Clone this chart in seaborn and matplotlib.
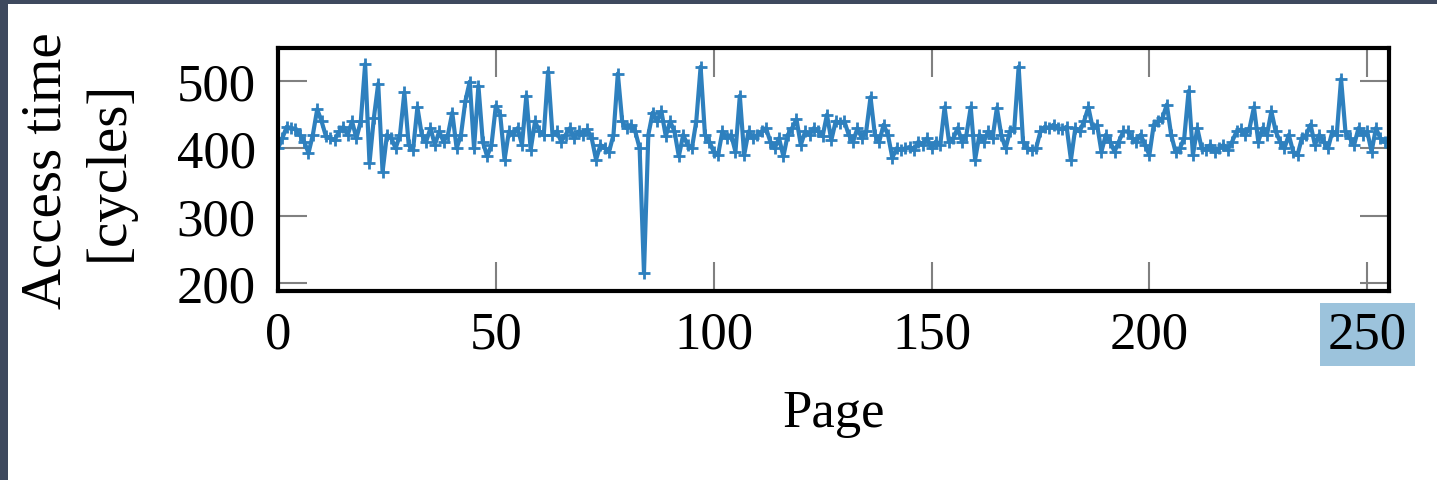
import matplotlib
matplotlib.use("Agg")
import matplotlib.pyplot as plt
import numpy as np
import pandas as pd
import seaborn as sns
from matplotlib.patches import Rectangle

# access time per page
access_time = [
    400, 415, 432, 430, 428, 420, 410, 393, 420, 458, 440, 418, 415, 412, 425, 432,
    420, 440, 415, 440, 525, 378, 445, 496, 365, 420, 415, 400, 420, 483, 405, 398,
    461, 420, 410, 430, 405, 425, 410, 420, 453, 400, 420, 470, 499, 400, 493, 410,
    388, 405, 463, 450, 383, 425, 420, 430, 405, 478, 398, 440, 425, 420, 514, 420,
    425, 410, 420, 430, 415, 425, 420, 428, 415, 383, 405, 400, 395, 420, 511, 440,
    430, 435, 425, 400, 215, 420, 453, 440, 455, 418, 440, 425, 388, 420, 405, 400,
    440, 521, 420, 410, 395, 390, 425, 415, 420, 395, 478, 390, 425, 415, 420, 425,
    430, 410, 400, 415, 388, 420, 430, 443, 405, 425, 420, 430, 425, 418, 450, 412,
    440, 438, 440, 420, 410, 430, 415, 425, 476, 420, 410, 435, 420, 386, 400, 398,
    400, 402, 398, 410, 405, 415, 400, 410, 405, 461, 410, 415, 430, 410, 420, 461,
    383, 420, 410, 425, 415, 460, 420, 400, 425, 430, 521, 410, 400, 398, 400, 425,
    432, 430, 435, 430, 428, 432, 383, 430, 425, 440, 461, 430, 435, 395, 420, 410,
    395, 410, 425, 425, 415, 410, 420, 405, 390, 435, 440, 445, 465, 420, 395, 400,
    415, 485, 390, 430, 400, 398, 405, 395, 400, 405, 398, 410, 425, 428, 420, 430,
    461, 410, 430, 420, 455, 425, 410, 400, 420, 395, 390, 415, 420, 435, 405, 420,
    410, 400, 425, 420, 503, 425, 415, 405, 430, 420, 425, 395, 430, 415, 410, 410,
]
pages = list(range(len(access_time)))
x_ticks = [0, 50, 100, 150, 200, 250]
y_ticks = [200, 300, 400, 500]

df = pd.DataFrame({"Page": pages, "Access time": access_time})

sns.set_theme(style="ticks")
plt.rcParams["font.family"] = ["Liberation Serif", "DejaVu Serif"]
plt.rcParams["text.color"] = "black"
plt.rcParams["axes.labelcolor"] = "black"
plt.rcParams["xtick.labelcolor"] = "black"
plt.rcParams["ytick.labelcolor"] = "black"

fig = plt.figure(figsize=(14.37, 4.81), dpi=100)
ax = fig.add_axes([278 / 1437, 1 - 292 / 481, (1389 - 278) / 1437, (292 - 49) / 481])

sns.lineplot(data=df, x="Page", y="Access time", ax=ax, color="#2e80be",
             linewidth=3.0, marker="+", markersize=9, markeredgewidth=2.0,
             markeredgecolor="#2e80be")

ax.set_xlim(0, 255)
ax.set_ylim(188, 549)
ax.set_xticks(x_ticks)
ax.set_yticks(y_ticks)
ax.tick_params(axis="both", which="major", direction="in", length=21, width=1.5,
               color="#808080", labelsize=38, labelcolor="black", top=True, right=True)
ax.tick_params(axis="x", pad=14)
ax.tick_params(axis="y", pad=16)
for s in ax.spines.values():
    s.set_linewidth(3)
    s.set_color("black")

ax.set_xlabel("Page", fontsize=38, labelpad=22)
ax.set_ylabel("Access time\n[cycles]", fontsize=41, labelpad=30, linespacing=1.25)

# the "250" label is highlighted in the reference
fig.canvas.draw()
last = ax.get_xticklabels()[-1]
last.set_bbox(dict(boxstyle="square,pad=0.15", facecolor="#9cc3dc", edgecolor="none"))

# dark frame at top and left
fig.patches.append(Rectangle((0, 1 - 5 / 481), 1, 5 / 481, transform=fig.transFigure,
                             facecolor="#3e495e", edgecolor="none", zorder=10))
fig.patches.append(Rectangle((0, 0), 8 / 1437, 1, transform=fig.transFigure,
                             facecolor="#3e495e", edgecolor="none", zorder=10))

fig.savefig("out.png", dpi=100)
